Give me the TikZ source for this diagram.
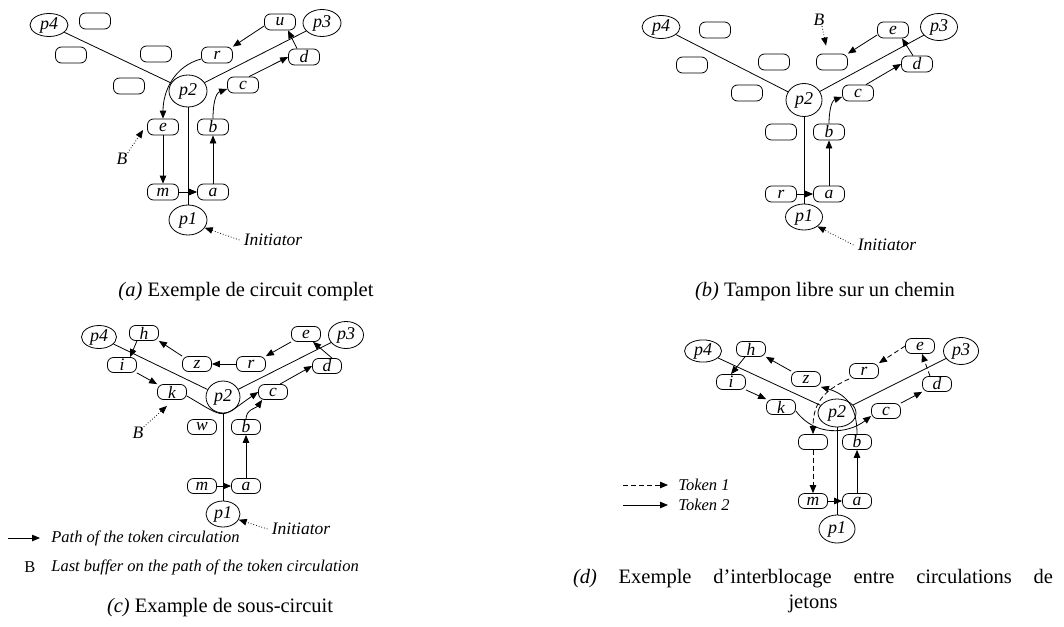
\documentclass[tikz,border=0pt]{standalone}
\usepackage{fontspec}
\setmainfont{Liberation Serif}
\usetikzlibrary{shapes.geometric,arrows.meta}
\tikzset{
 lbl/.style={font=\fontsize{16.5}{18}\selectfont\itshape, inner sep=0pt},
 ilbl/.style={font=\fontsize{17.5}{19}\selectfont\itshape, inner sep=0pt},
 ulbl/.style={font=\fontsize{16.5}{18}\selectfont, inner sep=0pt},
 buf/.style={draw, rounded corners=6pt, minimum width=31pt, minimum height=16pt, inner sep=0pt, font=\fontsize{17.5}{18}\selectfont\itshape},
 sbuf/.style={buf, minimum width=29pt, minimum height=15pt},
 proc/.style={draw, ellipse, minimum width=38pt, minimum height=25pt, inner sep=0pt, font=\fontsize{18}{18}\selectfont\itshape},
 arr/.style={-{Triangle[length=8pt,width=6.5pt]}},
 darr/.style={arr, dash pattern=on 5pt off 3pt},
 dotarr/.style={arr, dotted},
 captionstyle/.style={font=\fontsize{20.5}{24.5}\selectfont, inner sep=0pt},
}
\begin{document}
\begin{tikzpicture}[x=1pt,y=1pt,line width=0.8pt]
\useasboundingbox (0,0) rectangle (1064,-626);

% ---------------- (a)
\node[proc, minimum height=23pt] (a4) at (49,-25) {p4};
\node[proc, minimum height=27pt] (a3) at (322,-23) {p3};
\node[proc, minimum height=32pt] (a2) at (188,-91) {p2};
\node[proc, minimum height=30pt] (a1) at (188,-220) {p1};
\node[buf] (ax1) at (95,-21) {};
\node[buf] (ax2) at (71,-55) {};
\node[buf] (ax3) at (156,-54) {};
\node[buf] (ax4) at (129,-86) {};
\node[buf] (ar) at (217,-55) {r};
\node[buf] (au) at (280,-22) {u};
\node[buf] (ad) at (304,-57) {d};
\node[buf] (ac) at (243,-85) {c};
\node[buf] (ae) at (163,-127) {e};
\node[buf] (ab) at (213,-127) {b};
\node[buf] (am) at (163,-192) {m};
\node[buf] (aa) at (213,-192) {a};
\node[ilbl] (aI) at (273,-240) {Initiator};
\node[ilbl] (aB) at (122,-159) {B};
\draw (a4) -- (a2);
\draw (a2) -- (a3);
\draw (a2) -- (a1);
\draw[arr] (am) -- (aa);
\draw[arr] (aa) -- (ab);
\draw[arr] (ab.north) to[out=90,in=200] ([yshift=-4pt]ac.west);
\draw[arr] ([xshift=6pt]ac.north) -- (ad.west);
\draw[arr] ([xshift=-7pt]ad.north) -- ([xshift=8pt]au.south);
\draw[arr] ([yshift=-4pt]au.west) -- (ar.north east);
\draw[arr] ([yshift=-4pt]ar.west) to[out=195,in=90] (ae.north);
\draw[arr] (ae) -- (am);
\draw[dotarr] (aB.north east) -- ([xshift=-4pt,yshift=-3pt]ae.west);
\draw[dotarr] ([xshift=-4pt]aI.west) -- (a1.-25);
\node[captionstyle] (acap) at (246,-292) {\textit{(a)} Exemple de circuit complet};

% ---------------- (b)
\node[proc, minimum height=23pt] (b4) at (661,-27) {p4};
\node[proc, minimum width=37pt, minimum height=27pt] (b3) at (939,-27) {p3};
\node[proc, minimum width=36pt, minimum height=33pt] (b2) at (804,-100) {p2};
\node[proc, minimum width=37pt, minimum height=26pt] (b1) at (804,-217) {p1};
\node[buf] (bx1) at (715,-30) {};
\node[buf] (bx2) at (692,-65) {};
\node[buf] (bx3) at (774,-62) {};
\node[buf] (bx4) at (832,-62) {};
\node[buf] (bx5) at (747,-93) {};
\node[buf] (bx6) at (781,-132) {};
\node[buf] (be) at (893,-30) {e};
\node[buf] (bd) at (917,-64) {d};
\node[buf] (bc) at (858,-93) {c};
\node[buf] (bb) at (829,-132) {b};
\node[buf] (br) at (781,-194) {r};
\node[buf] (ba) at (829,-194) {a};
\node[ilbl] (bI) at (887,-245) {Initiator};
\node[ilbl] (bB) at (819,-20) {B};
\draw (b4) -- (b2);
\draw (b2) -- (b3);
\draw (b2) -- (b1);
\draw[arr] (br) -- (ba);
\draw[arr] (ba) -- (bb);
\draw[arr] (bb.north) to[out=90,in=200] ([yshift=-4pt]bc.west);
\draw[arr] ([xshift=8pt]bc.north) -- (bd.west);
\draw[arr] ([xshift=-4pt]bd.north) -- ([xshift=9pt]be.south);
\draw[arr] ([yshift=-5pt]be.west) -- (bx4.north east);
\draw[dotarr] ([xshift=3pt]bB.south) -- ([xshift=-6pt,yshift=8pt]bx4.north);
\draw[dotarr] ([xshift=-4pt]bI.west) -- (b1.-35);
\node[captionstyle] (bcap) at (825,-292) {\textit{(b)} Tampon libre sur un chemin};

% ---------------- (c)
\node[proc, minimum width=35pt, minimum height=23pt] (c4) at (99,-337) {p4};
\node[proc, minimum width=35pt, minimum height=27pt] (c3) at (346,-335) {p3};
\node[proc, minimum width=34pt, minimum height=32pt] (c2) at (223,-397) {p2};
\node[proc, minimum width=34pt, minimum height=26pt] (c1) at (223,-514) {p1};
\node[sbuf] (ch) at (144,-333) {h};
\node[sbuf] (ci) at (122,-365) {i};
\node[sbuf] (ck) at (172,-392) {k};
\node[sbuf] (cz) at (197,-364) {z};
\node[sbuf] (cr) at (251,-364) {r};
\node[sbuf] (ce) at (306,-334) {e};
\node[sbuf] (cd) at (327,-366) {d};
\node[sbuf] (cc) at (273,-392) {c};
\node[sbuf] (cw) at (202,-427) {w};
\node[sbuf] (cb) at (246,-427) {b};
\node[sbuf] (cm) at (202,-486) {m};
\node[sbuf] (ca) at (246,-486) {a};
\node[ilbl] (cI) at (301,-529) {Initiator};
\node[ilbl] (cB) at (138,-433) {B};
\draw (c4) -- (c2);
\draw (c2) -- (c3);
\draw (c2) -- (c1);
\draw[arr] (cm) -- (ca);
\draw[arr] (ca) -- (cb);
\draw[arr] (cb.north) to[out=90,in=235] ([xshift=4pt]cc.south west);
\draw[arr] ([xshift=7pt]cc.north) -- (cd.west);
\draw[arr] ([xshift=5pt]cd.north) -- ([xshift=7pt]ce.south);
\draw[arr] (ce.south west) -- (cr.north east);
\draw[arr] (cr) -- (cz);
\draw[arr] (cz.north west) -- (ch.south east);
\draw[arr] ([xshift=-7pt]ch.south) -- ([xshift=8pt]ci.north);
\draw[arr] (ci.south east) -- (ck.north west);
\draw[arr] ([yshift=-4pt]ck.east) .. controls (228,-420) and (219,-419) .. (cc.west);
\draw[dotarr] (cB.north east) -- ([xshift=-5pt,yshift=-6pt]ck.south);
\draw[dotarr] ([xshift=-4pt]cI.west) -- (c1.-20);
\coordinate (lg1s) at (8,-538);
\node[lbl, anchor=west] (lg1) at (51,-538) {Path of the token circulation};
\draw[arr] (lg1s) -- ([xshift=-11pt]lg1.west);
\node[ulbl] (lgB) at (30,-567) {B};
\node[lbl, anchor=west] (lg2) at (51,-567) {Last buffer on the path of the token circulation};
\node[captionstyle] (ccap) at (220,-608) {\textit{(c)} Example de sous-circuit};

% ---------------- (d)
\node[proc, minimum width=37pt, minimum height=22pt] (d4) at (703,-351) {p4};
\node[proc, minimum width=35pt, minimum height=27pt] (d3) at (961,-351) {p3};
\node[proc, minimum width=38pt, minimum height=28pt] (d2) at (837,-413) {p2};
\node[proc, minimum width=36pt, minimum height=28pt] (d1) at (837,-529) {p1};
\node[sbuf] (dh) at (751,-349) {h};
\node[sbuf] (di) at (731,-382) {i};
\node[sbuf] (dk) at (781,-407) {k};
\node[sbuf] (dz) at (806,-379) {z};
\node[sbuf] (dr) at (864,-371) {r};
\node[sbuf] (de) at (920,-346) {e};
\node[sbuf] (dd) at (937,-384) {d};
\node[sbuf] (dc) at (886,-411) {c};
\node[sbuf] (dx) at (813,-442) {};
\node[sbuf] (db) at (857,-442) {b};
\node[sbuf] (dm) at (813,-501) {m};
\node[sbuf] (da) at (857,-501) {a};
\draw (d4) -- (d2);
\draw (d2) -- (d3);
\draw (d2) -- (d1);
\draw[arr] (dm) -- (da);
\draw[arr] (da) -- (db);
\draw[arr] (db.north) .. controls (857,-410) and (849,-395) .. (dz.south east);
\draw[arr] (dz.north west) -- (dh.south east);
\draw[arr] ([xshift=-6pt]dh.south) -- (di.north);
\draw[arr] (di.south east) -- (dk.north west);
\draw[arr] ([yshift=-4pt]dk.east) .. controls (815,-437) and (848,-434) .. ([yshift=-5pt]dc.west);
\draw[arr] (dc.north east) -- (dd.south west);
\draw[darr] ([xshift=-7pt]dd.north) -- ([xshift=2pt]de.south);
\draw[darr] (de.west) -- (dr.north east);
\draw[darr] (dr.south west) .. controls (830,-388) and (813,-398) .. (dx.north);
\draw[darr] (dx) -- (dm);
\coordinate (t1s) at (623,-485);
\node[lbl, anchor=west] (t1) at (678,-485) {Token 1};
\draw[darr] (t1s) -- ([xshift=-10pt]t1.west);
\coordinate (t2s) at (623,-505);
\node[lbl, anchor=west] (t2) at (678,-505) {Token 2};
\draw[arr] (t2s) -- ([xshift=-10pt]t2.west);
\node[captionstyle, align=center] (dcap) at (813,-591) {\makebox[480pt][s]{\textit{(d)} Exemple d’interblocage entre circulations de}\\ jetons};
\end{tikzpicture}
\end{document}
